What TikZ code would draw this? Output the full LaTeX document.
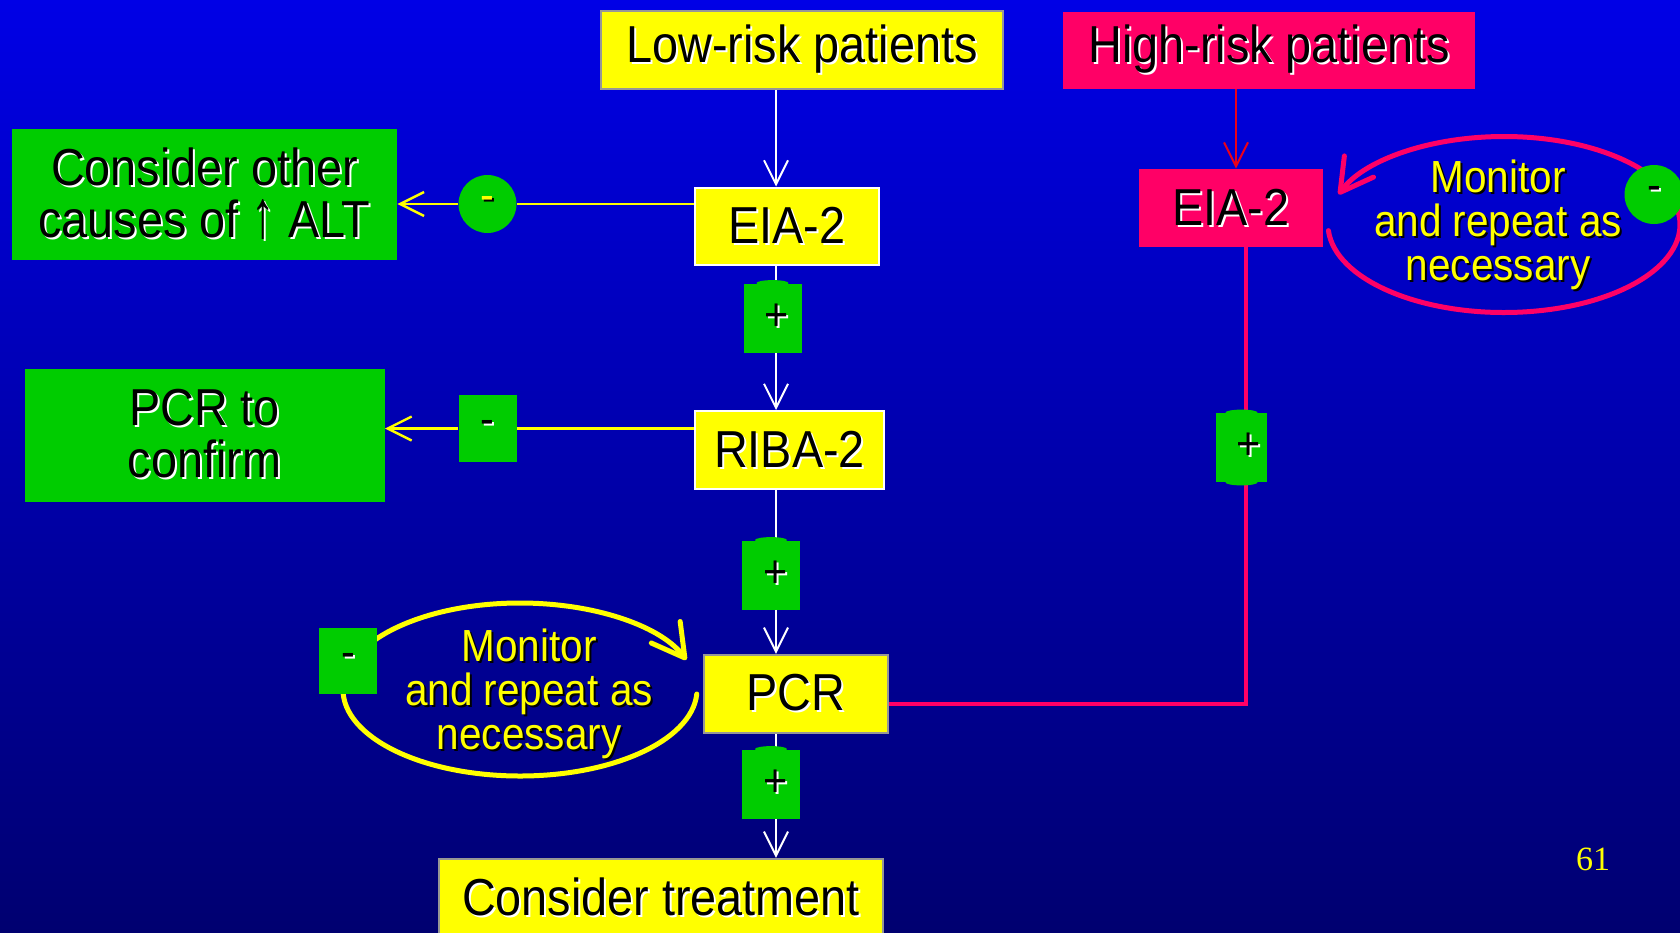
\documentclass[tikz,border=0pt]{standalone}
\usepackage{fontspec}
\setmainfont{Liberation Sans}[FakeStretch=0.9]
\newfontfamily\numfont{Liberation Serif}
\usepackage{tikz}
\usetikzlibrary{arrows.meta}
\definecolor{slideyellow}{RGB}{255,255,0}
\definecolor{slidegreen}{RGB}{0,204,0}
\definecolor{slidecrimson}{RGB}{255,0,102}
\definecolor{slidered}{RGB}{235,0,25}
\definecolor{boxgrey}{RGB}{150,150,150}
\definecolor{bgtop}{RGB}{0,0,230}
\definecolor{bgbottom}{RGB}{0,0,112}
\newcommand*{\bigfont}{\fontsize{26pt}{26pt}\selectfont}
\newcommand*{\loopfont}{\fontsize{22.5pt}{22pt}\selectfont}
\newcommand*{\signfont}{\fontsize{23pt}{23pt}\selectfont}
\newcommand*{\shd}[2][white]{\leavevmode\rlap{\kern1pt\raisebox{-1pt}{\textcolor{#1}{#2}}}#2}
\newcommand*{\uparr}{\scalebox{1}[1.3]{↑}}
\tikzset{
  barb/.tip={Straight Barb[length=12pt,width=12pt]},
  loopbarb/.tip={Straight Barb[length=16pt,width=18pt,round]},
  ybox/.style={rectangle,fill=slideyellow,draw=boxgrey,line width=1.2pt,text=black,font=\bigfont,inner sep=0pt},
  wbox/.style={ybox,draw=white,line width=1pt},
  rbox/.style={rectangle,fill=slidecrimson,text=black,font=\bigfont,inner sep=0pt},
  gbox/.style={rectangle,fill=slidegreen,text=black,font=\bigfont,align=center,inner sep=0pt},
  plusbox/.style={rectangle,fill=slidegreen,text=black,font=\signfont,minimum width=29pt,minimum height=34.5pt,inner sep=0pt},
  minuscirc/.style={circle,fill=slidegreen,text=black,font=\signfont,minimum size=29pt,inner sep=0pt},
  looptext/.style={text=slideyellow,font=\loopfont,align=center,inner sep=0pt},
  wline/.style={draw=white,line width=1pt},
  yline/.style={draw=slideyellow,line width=1.2pt},
  redline/.style={draw=slidered,line width=1pt},
  cline/.style={draw=slidecrimson,line width=1.6pt},
  yloop/.style={draw=slideyellow,line width=2.5pt,line cap=round,-loopbarb},
  cloop/.style={draw=slidecrimson,line width=2.5pt,line cap=round,-loopbarb}
}
\begin{document}
\begin{tikzpicture}[x=0.5pt,y=-0.5pt]
    \useasboundingbox (0,0) rectangle (1680,932);
    \clip (0,0) rectangle (1680,932);
    \shade[top color=bgtop,bottom color=bgbottom] (0,0) rectangle (1680,932);

    \coordinate (spine) at (776,0);
    \coordinate (hin) at (1236,0);
    \coordinate (hjoin) at (1246,704);
    \coordinate (loopa) at (520,689.5);
    \coordinate (loopb) at (1504,224.5);

    \draw[yloop] (loopa) ++(-3:88.5pt and 43.25pt) arc[start angle=-3,end angle=-340,x radius=88.5pt,y radius=43.25pt];
    \draw[cloop] (loopb) ++(184:88pt and 44pt) arc[start angle=184,end angle=520,x radius=88pt,y radius=44pt];

    \node[ybox,minimum width=201pt,minimum height=39pt] (low) at (802,50) {\shd{Low-risk patients}};
    \node[rbox,minimum width=206pt,minimum height=38.5pt] (high) at (1269,50.5) {\shd{High-risk patients}};
    \node[gbox,minimum width=192.5pt,minimum height=65.5pt] (other) at (204.5,194.5) {\shd{Consider other}\\\shd{causes of \uparr\ ALT}};
    \node[wbox,minimum width=92pt,minimum height=38.5pt] (eia) at (787,226) {\shd{EIA-2}};
    \node[minuscirc,text=slideyellow] (minus1) at (487.5,204) {\shd[black]{-}};
    \node[plusbox] (plus1) at (772.5,318) {\hspace*{4pt}\shd{+}};
    \node[wbox,minimum width=94.5pt,minimum height=39pt] (riba) at (789.5,450) {\shd{RIBA-2}};
    \node[gbox,minimum width=180pt,minimum height=66.5pt] (confirm) at (204.6,435) {\shd{PCR to}\\\shd{confirm}};
    \node[plusbox,minimum height=33.5pt] (minus2) at (487.5,428.5) {\shd{-}};
    \node[plusbox] (plus2) at (771,575) {\hspace*{5pt}\shd{+}};
    \node[ybox,minimum width=92pt,minimum height=39pt] (pcr) at (796,694) {\shd{PCR}};
    \node[plusbox] (plus3) at (771,784) {\hspace*{5pt}\shd{+}};
    \node[ybox,minimum width=222pt,minimum height=39pt] (treat) at (661,898) {\shd{Consider treatment}};
    \node[plusbox,minimum height=33pt] (minus3) at (348,661) {\shd{-}};
    \node[looptext] (monitora) at (529,695) {\shd[black]{Monitor}\\\shd[black]{and repeat as}\\\shd[black]{necessary}};
    \node[rbox,minimum width=92pt,minimum height=39pt] (eiah) at (1231,208) {\shd{EIA-2}};
    \node[plusbox,minimum width=25.5pt] (plus4) at (1241.5,447.5) {\hspace*{7pt}\shd{+}};
    \node[minuscirc,minimum size=29.5pt] (minus4) at (1654,194.5) {\shd{-}};
    \node[looptext] (monitorb) at (1498,226) {\shd[black]{Monitor}\\\shd[black]{and repeat as}\\\shd[black]{necessary}};
    \node[text=slideyellow,font=\numfont\fontsize{17pt}{17pt}\selectfont] (pageno) at (1593,859) {61};

    \path[wline]
    (low.south -| spine) edge[-barb] (eia.north -| spine)
    (eia.south -| spine) edge (plus1.north -| spine)
    (plus1.south -| spine) edge[-barb] (riba.north -| spine)
    (riba.south -| spine) edge (plus2.north -| spine)
    (plus2.south -| spine) edge[-barb] (pcr.north -| spine)
    (pcr.south -| spine) edge (plus3.north -| spine)
    (plus3.south -| spine) edge[-barb] (treat.north -| spine);
    \path[yline]
    (minus1 -| eia.west) edge (minus1.east)
    (minus1.west) edge[-barb] (minus1 -| other.east)
    (minus2 -| riba.west) edge (minus2.east)
    (minus2.west) edge[-barb] (minus2 -| confirm.east);
    \draw[redline,-barb] (high.south -| hin) -- (eiah.north -| hin);
    \draw[cline] (eiah.south -| hjoin) -- (plus4.north -| hjoin);
    \draw[cline] (plus4.south -| hjoin) -- (hjoin) -- (hjoin -| pcr.east);

    \foreach \p in {plus1,plus2,plus3,plus4}
      \fill[slidegreen] (\p.north) ellipse (8pt and 1.5pt);
    \fill[slidegreen] (plus4.south) ellipse (8pt and 1.5pt);
\end{tikzpicture}
\end{document}
